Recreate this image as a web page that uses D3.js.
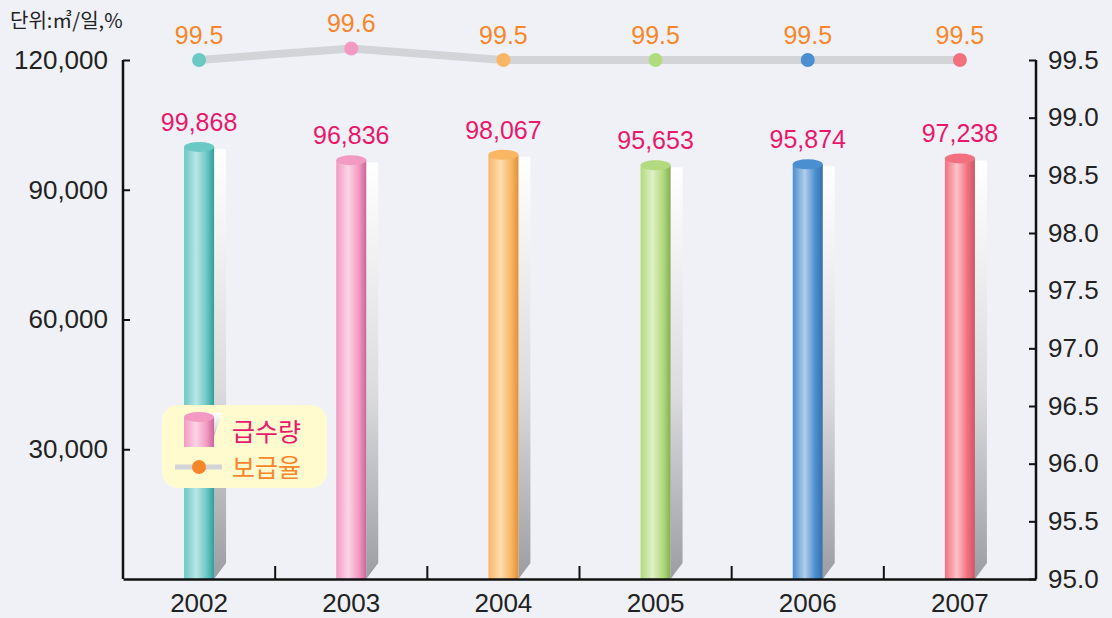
<!DOCTYPE html>
<html>
<head>
<meta charset="utf-8">
<script src="https://cdn.jsdelivr.net/npm/d3@7"></script>
<style>
  body { margin: 0; background: #f0f1f7; }
  svg { display: block; font-family: "Liberation Sans", "Noto Sans CJK KR", sans-serif; }
</style>
</head>
<body>
<div id="chart-area"></div>
<script>
// data
let years = ["2002", "2003", "2004", "2005", "2006", "2007"];
let supply = [99868, 96836, 98067, 95653, 95874, 97238];
let rate = [99.5, 99.6, 99.5, 99.5, 99.5, 99.5];
let leftTicks = [30000, 60000, 90000, 120000];
let rightTicks = [95.0, 95.5, 96.0, 96.5, 97.0, 97.5, 98.0, 98.5, 99.0, 99.5];

// colour per year: [base, light, dark]
let colors = [
  ["#6cc8c4", "#b9e6e6", "#2f9e9a"],
  ["#f39ac2", "#fbd4e6", "#c9669a"],
  ["#f9b766", "#fddcae", "#e0903a"],
  ["#b2da7e", "#def0c6", "#85ad55"],
  ["#4a8fd0", "#b3cdeb", "#3a6ea6"],
  ["#f3707f", "#fcc2c8", "#c45a66"]
];

let W = 1112, H = 618;
let mLeft = 123, mRight = 1036, mTop = 60, mBottom = 579;

let svg = d3.select('#chart-area')
            .append('svg')
            .attr('width', W)
            .attr('height', H);

svg.append("rect").attr("width", W).attr("height", H).attr("fill", "#f0f1f7");

let x = d3.scaleBand()
        .domain(years)
        .range([mLeft, mRight]);

let y = d3.scaleLinear()
        .domain([0, 120000])
        .range([mBottom, mTop]);

let y2 = d3.scaleLinear()
        .domain([95, 99.5])
        .range([mBottom, mTop]);

let defs = svg.append("defs");

colors.forEach(function(c, i) {
  let g = defs.append("linearGradient")
      .attr("id", "cyl" + i)
      .attr("x1", "0%").attr("x2", "100%").attr("y1", "0%").attr("y2", "0%");
  g.append("stop").attr("offset", "0%").attr("stop-color", c[0]);
  g.append("stop").attr("offset", "40%").attr("stop-color", c[1]);
  g.append("stop").attr("offset", "75%").attr("stop-color", c[0]);
  g.append("stop").attr("offset", "100%").attr("stop-color", c[2]);
});

let sh = defs.append("linearGradient")
    .attr("id", "shadow")
    .attr("x1", "0%").attr("x2", "0%").attr("y1", "0%").attr("y2", "100%");
sh.append("stop").attr("offset", "0%").attr("stop-color", "#ffffff");
sh.append("stop").attr("offset", "55%").attr("stop-color", "#dcdcdf");
sh.append("stop").attr("offset", "100%").attr("stop-color", "#9c9da2");

let barW = 30, ry = 5, shW = 12;

let bars = svg.selectAll("g.bar")
    .data(supply)
    .enter()
    .append("g")
    .attr("class", "bar");

// shadow behind the cylinder
bars.append("path")
    .attr("d", function(d, i) {
      let cx = x(years[i]) + x.bandwidth() / 2;
      let r = cx + barW / 2;
      let t = y(d) + 2;
      return "M" + r + "," + t + "L" + (r + shW) + "," + t +
             "L" + (r + shW) + "," + (mBottom - 16) + "L" + r + "," + mBottom + "Z";
    })
    .attr("fill", "url(#shadow)");

bars.append("rect")
    .attr("x", function(d, i) { return x(years[i]) + x.bandwidth() / 2 - barW / 2; })
    .attr("y", function(d) { return y(d); })
    .attr("width", barW)
    .attr("height", function(d) { return mBottom - y(d); })
    .attr("fill", function(d, i) { return "url(#cyl" + i + ")"; });

bars.append("ellipse")
    .attr("cx", function(d, i) { return x(years[i]) + x.bandwidth() / 2; })
    .attr("cy", function(d) { return y(d); })
    .attr("rx", barW / 2)
    .attr("ry", ry)
    .attr("fill", function(d, i) { return colors[i][0]; });

bars.append("text")
    .attr("x", function(d, i) { return x(years[i]) + x.bandwidth() / 2; })
    .attr("y", function(d) { return y(d) - 16; })
    .attr("text-anchor", "middle")
    .attr("font-size", 25)
    .attr("fill", "#e8196b")
    .text(function(d) { return d3.format(",")(d); });

// line for 보급율
let line = d3.line()
    .x(function(d, i) { return x(years[i]) + x.bandwidth() / 2; })
    .y(function(d) { return y2(d); });

svg.append("path")
    .datum(rate)
    .attr("d", line)
    .attr("fill", "none")
    .attr("stroke", "#d3d4d8")
    .attr("stroke-width", 8);

svg.selectAll("circle.pt")
    .data(rate)
    .enter()
    .append("circle")
    .attr("class", "pt")
    .attr("cx", function(d, i) { return x(years[i]) + x.bandwidth() / 2; })
    .attr("cy", function(d) { return y2(d); })
    .attr("r", 7)
    .attr("fill", function(d, i) { return colors[i][0]; });

svg.selectAll("text.rate")
    .data(rate)
    .enter()
    .append("text")
    .attr("class", "rate")
    .attr("x", function(d, i) { return x(years[i]) + x.bandwidth() / 2; })
    .attr("y", function(d) { return y2(d) - 16; })
    .attr("text-anchor", "middle")
    .attr("font-size", 25)
    .attr("fill", "#f7862a")
    .text(function(d) { return d.toFixed(1); });

// axes
let yAxis = d3.axisRight(y).tickValues(leftTicks).tickSize(7).tickFormat(d3.format(","));
let gy = svg.append("g").attr("transform", "translate(" + mLeft + ",0)").call(yAxis);

let y2Axis = d3.axisLeft(y2).tickValues(rightTicks).tickSize(7).tickFormat(d3.format(".1f"));
let gy2 = svg.append("g").attr("transform", "translate(" + mRight + ",0)").call(y2Axis);

let xAxis = d3.axisBottom(x).tickSize(0);
let gx = svg.append("g").attr("transform", "translate(0," + mBottom + ")").call(xAxis);

[gy, gy2, gx].forEach(function(g) {
  g.select(".domain").attr("stroke", "#111").attr("stroke-width", 2.5);
  g.selectAll(".tick line").attr("stroke", "#111").attr("stroke-width", 2);
  g.selectAll("text").attr("font-size", 26).attr("fill", "#222")
    .attr("font-family", "Liberation Sans, sans-serif");
});
gy.select(".domain").attr("d", "M0," + mTop + "V" + mBottom);
gy2.select(".domain").attr("d", "M0," + mTop + "V" + mBottom);
gy.selectAll("text").attr("x", -15).attr("text-anchor", "end");
gy2.selectAll("text").attr("x", 12).attr("text-anchor", "start");
gx.selectAll("text").attr("y", 33).attr("dy", 0);

// divider ticks between years on the bottom axis
svg.selectAll("line.div")
    .data(years.slice(1))
    .enter()
    .append("line")
    .attr("class", "div")
    .attr("x1", function(d) { return x(d); })
    .attr("x2", function(d) { return x(d); })
    .attr("y1", mBottom)
    .attr("y2", mBottom - 13)
    .attr("stroke", "#111")
    .attr("stroke-width", 2);

// unit label
svg.append("text")
    .attr("x", 10).attr("y", 28)
    .attr("font-size", 20)
    .attr("font-family", "Noto Sans CJK KR, sans-serif")
    .attr("fill", "#222")
    .text("단위:㎥/일,%");

// legend
let lg = svg.append("g").attr("transform", "translate(162,405)");
lg.append("rect")
    .attr("width", 165).attr("height", 83).attr("rx", 16)
    .attr("fill", "#fffbcf");
lg.append("path")
    .attr("d", "M46,8 L60,8 L52,32 L46,36 Z")
    .attr("fill", "url(#shadow)");
lg.append("rect")
    .attr("x", 22).attr("y", 12).attr("width", 30).attr("height", 30)
    .attr("fill", "url(#cyl1)");
lg.append("ellipse")
    .attr("cx", 37).attr("cy", 12).attr("rx", 15).attr("ry", 5)
    .attr("fill", colors[1][0]);
lg.append("text")
    .attr("x", 70).attr("y", 36)
    .attr("font-size", 25)
    .attr("font-family", "Noto Sans CJK KR, sans-serif")
    .attr("fill", "#e8196b")
    .text("급수량");
lg.append("line")
    .attr("x1", 13).attr("x2", 60).attr("y1", 62).attr("y2", 62)
    .attr("stroke", "#d3d4d8").attr("stroke-width", 5);
lg.append("circle")
    .attr("cx", 37).attr("cy", 62).attr("r", 7)
    .attr("fill", "#f7862a");
lg.append("text")
    .attr("x", 70).attr("y", 72)
    .attr("font-size", 25)
    .attr("font-family", "Noto Sans CJK KR, sans-serif")
    .attr("fill", "#f7862a")
    .text("보급율");
</script>
</body>
</html>
